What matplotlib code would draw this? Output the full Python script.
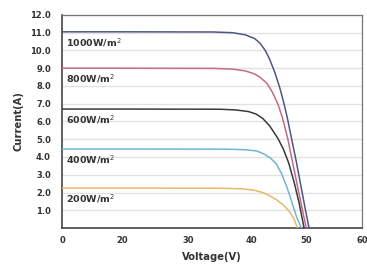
import numpy as np
import matplotlib
matplotlib.use('Agg')
import matplotlib.pyplot as plt

# I-V curves (voltage in V, current in A)
v_1000 = [0, 20, 34, 37, 39, 40.5, 41.5, 42.5, 43.3, 44.2, 45.1, 45.8, 46.5, 47.3, 48.2, 49.0, 49.8, 50.5]
i_1000 = [11.05, 11.05, 11.04, 11.0, 10.88, 10.68, 10.42, 10.0, 9.5, 8.8, 7.95, 7.15, 6.25, 5.05, 3.7, 2.4, 1.1, 0.0]
v_800 = [0, 20, 34, 37, 39, 40.5, 41.5, 42.8, 43.8, 44.8, 45.6, 46.6, 47.5, 48.4, 49.2, 50.0]
i_800 = [9.0, 9.0, 8.99, 8.95, 8.85, 8.68, 8.5, 8.15, 7.65, 6.98, 6.25, 5.05, 3.7, 2.35, 1.15, 0.0]
v_600 = [0, 20, 35, 37.5, 39.5, 40.8, 42.0, 43.3, 44.8, 45.8, 46.8, 47.8, 48.7, 49.6]
i_600 = [6.7, 6.7, 6.69, 6.65, 6.56, 6.42, 6.18, 5.75, 5.05, 4.45, 3.65, 2.55, 1.4, 0.0]
v_400 = [0, 20, 36, 39, 40.9, 42.2, 43.4, 44.5, 45.5, 46.4, 47.3, 48.2, 49.1]
i_400 = [4.45, 4.45, 4.44, 4.41, 4.34, 4.18, 3.95, 3.62, 3.05, 2.35, 1.52, 0.65, 0.0]
v_200 = [0, 20, 35, 38.5, 40.5, 42.0, 43.3, 44.5, 45.7, 46.8, 47.7, 48.4]
i_200 = [2.25, 2.25, 2.24, 2.21, 2.13, 2.0, 1.82, 1.6, 1.32, 0.98, 0.55, 0.0]

labels = ['1000W/m$^2$', '800W/m$^2$', '600W/m$^2$', '400W/m$^2$', '200W/m$^2$']
colours = ['#4f5680', '#c46a88', '#3a3a3a', '#72b4d6', '#e6b965']

x_ticks = [0, 20, 30, 40, 50, 60]
y_ticks = [1, 2, 3, 4, 5, 6, 7, 8, 9, 10, 11, 12]

# the picture spaces the voltage ticks unevenly, so the axis follows it
tick_pos = [0, 61, 127, 191, 246, 302]


def fwd(v):
    return np.interp(v, x_ticks, tick_pos)


def inv(p):
    return np.interp(p, tick_pos, x_ticks)


FONT = 'DejaVu Sans'

fig = plt.figure(figsize=(3.67, 2.67), dpi=100)
ax = fig.add_axes([0.169, 0.146, 0.817, 0.798])
ax.set_xscale('function', functions=(fwd, inv))

curves = [(v_1000, i_1000), (v_800, i_800), (v_600, i_600), (v_400, i_400), (v_200, i_200)]
for (v, i), lab, col in zip(curves, labels, colours):
    ax.plot(v, i, color=col, lw=1.1, zorder=3, solid_joinstyle='round')
    ax.text(1.3, i[0] - 0.6, lab, fontsize=6.8, fontweight='bold', family=FONT,
            color='#333333', va='center', ha='left', zorder=4)

ax.set_xlim(0, 60)
ax.set_ylim(0, 12)
ax.set_xticks(x_ticks)
ax.set_xticklabels([str(x) for x in x_ticks])
ax.set_yticks(y_ticks)
ax.set_yticklabels(['%.1f' % y for y in y_ticks])
ax.tick_params(length=0, labelsize=6, colors='#333333')
ax.tick_params(axis='y', pad=8)
ax.tick_params(axis='x', pad=6)
for lab in ax.get_xticklabels() + ax.get_yticklabels():
    lab.set_fontweight('bold')
    lab.set_family(FONT)

ax.grid(axis='y', color='#e2e2e2', lw=1)
ax.set_axisbelow(True)
for side in ['left', 'bottom']:
    ax.spines[side].set_color('#444444')
    ax.spines[side].set_linewidth(1.2)
for side in ['top', 'right']:
    ax.spines[side].set_color('#777777')
    ax.spines[side].set_linewidth(0.9)

ax.set_xlabel('Voltage(V)', fontsize=7.2, fontweight='bold', family=FONT, color='#333333', labelpad=5)
ax.set_ylabel('Current(A)', fontsize=7.2, fontweight='bold', family=FONT, color='#333333', labelpad=5)

fig.savefig('out.png', dpi=100)
